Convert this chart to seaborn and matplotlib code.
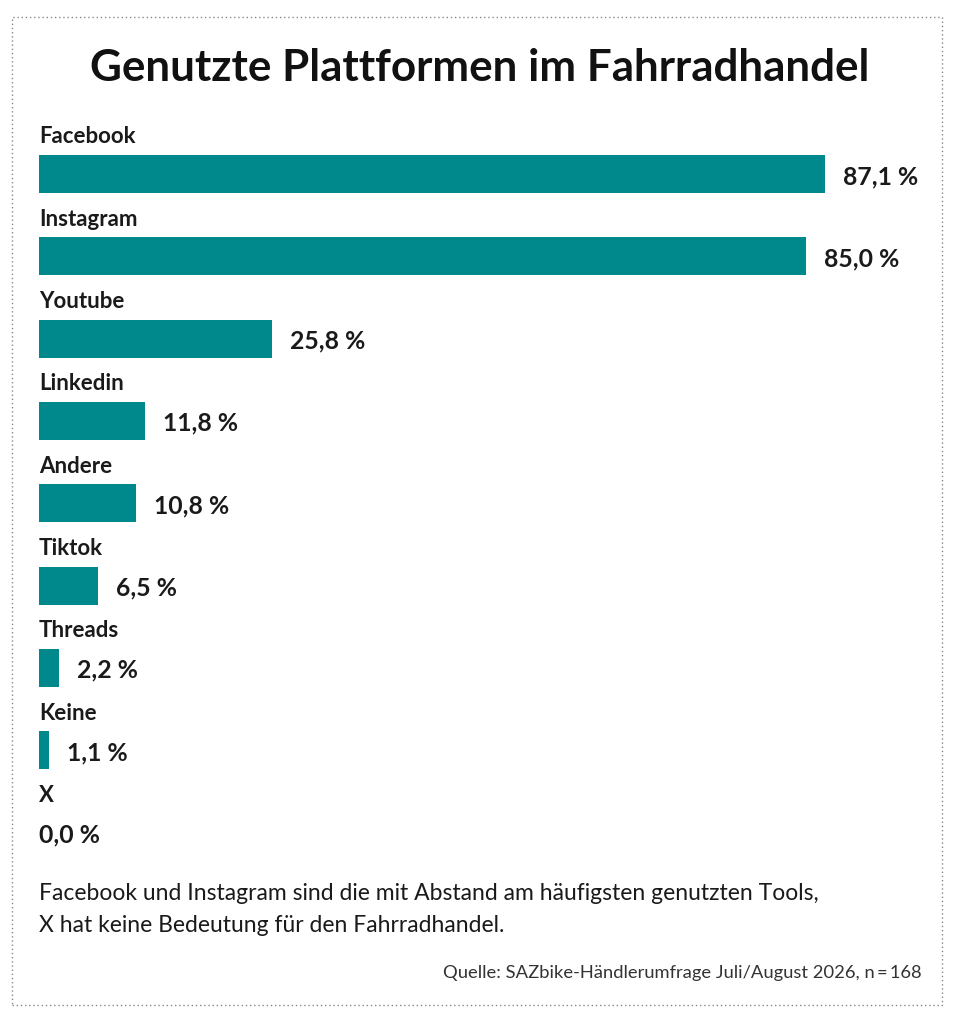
import matplotlib
matplotlib.use("Agg")
import matplotlib.pyplot as plt
import matplotlib.patches as patches
import seaborn as sns
import pandas as pd

# data
platforms = ["Facebook", "Instagram", "Youtube", "Linkedin", "Andere",
             "Tiktok", "Threads", "Keine", "X"]
shares = [87.1, 85.0, 25.8, 11.8, 10.8, 6.5, 2.2, 1.1, 0.0]

title = "Genutzte Plattformen im Fahrradhandel"
note_lines = ["Facebook und Instagram sind die mit Abstand am häufigsten genutzten Tools,",
              "X hat keine Bedeutung für den Fahrradhandel."]
source = "Quelle: SAZbike-Händlerumfrage Juli/August 2026, n\u2009=\u2009168"

TEAL = "#00898c"
TXT = "#1a1a1a"

sns.set_theme(style="white")
plt.rcParams["font.family"] = ["Lato", "DejaVu Sans"]

df = pd.DataFrame({"platform": platforms, "share": shares})

W, H = 959, 1024
fig = plt.figure(figsize=(W / 100, H / 100), dpi=100)

# axes placed in pixel terms: left 39, right 930, top 100, bottom 870
ax = fig.add_axes([39 / W, 1 - 870 / H, (930 - 39) / W, (870 - 100) / H])
px_per_pct = 9.02
row_px = 82.3
sns.barplot(data=df, x="share", y="platform", color=TEAL, width=38 / row_px,
            saturation=1, linewidth=0, ax=ax, orient="h")
ax.set_xlim(0, (930 - 39) / px_per_pct)
ax.set_ylim((870 - 174) / row_px, (100 - 174) / row_px)
ax.axis("off")

for i, (name, v) in enumerate(zip(platforms, shares)):
    ax.text(0, i - 0.45, name, ha="left", va="center", fontsize=16,
            fontweight="bold", color=TXT)
    lab = f"{v:.1f}".replace(".", ",") + " %"
    off = 2.0 if v > 0 else 0
    ax.text(v + off, i + 0.03, lab, ha="left", va="center", fontsize=17.8,
            fontweight="bold", color=TXT)

fig.text(0.5, 1 - 68 / H, title, ha="center", va="center", fontsize=31.7,
         fontweight="bold", color="#111111")
fig.text(39 / W, 1 - 894 / H, note_lines[0], ha="left", va="center",
         fontsize=16.5, color=TXT)
fig.text(39 / W, 1 - 925 / H, note_lines[1], ha="left", va="center",
         fontsize=16.5, color=TXT)
fig.text(922 / W, 1 - 973 / H, source, ha="right", va="center",
         fontsize=13.2, color="#333333")

# dotted frame
frame = patches.Rectangle((12 / W, 1 - 1005 / H), (942 - 12) / W, (1005 - 17) / H,
                          transform=fig.transFigure, fill=False,
                          edgecolor="#888888", linestyle=(0, (1, 2)), linewidth=1)
fig.patches.append(frame)

fig.savefig("out.png", dpi=100)
